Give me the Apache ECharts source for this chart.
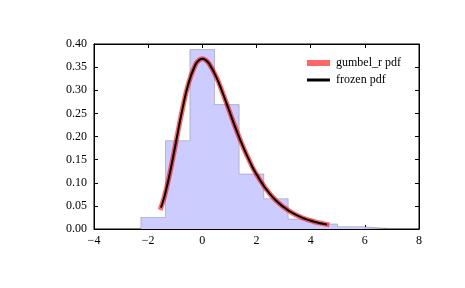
<!DOCTYPE html>
<html><head><meta charset="utf-8">
<script src="https://cdn.jsdelivr.net/npm/echarts@6/dist/echarts.min.js"></script>
<style>html,body{margin:0;padding:0;background:#fff}#c{width:465px;height:288px}</style>
</head><body><div id="c"></div>
<script>
// histogram (stepfilled, density)
const binEdges = [-2.27, -1.36, -0.46, 0.45, 1.36, 2.27, 3.17, 4.08, 4.99, 5.90, 6.81];
const histValues = [0.025, 0.191, 0.388, 0.269, 0.119, 0.0655, 0.0216, 0.011, 0.005, 0.0015];
// gumbel_r pdf sampled
const pdfX = [-1.527, -1.4, -1.25, -1.0, -0.75, -0.5, -0.25, -0.125, 0, 0.125, 0.25, 0.5, 0.75, 1.0, 1.25, 1.5, 1.75, 2.0, 2.5, 3.0, 3.5, 4.0, 4.6];
const pdfY = [0.0461, 0.0703, 0.1065, 0.1794, 0.2549, 0.3170, 0.3556, 0.3649, 0.3679, 0.3652, 0.3575, 0.3307, 0.2945, 0.2546, 0.2151, 0.1785, 0.1461, 0.1182, 0.0756, 0.0474, 0.0293, 0.0180, 0.00995];
const xTicks = [-4, -2, 0, 2, 4, 6, 8];
const yTicks = [0, 0.05, 0.10, 0.15, 0.20, 0.25, 0.30, 0.35, 0.40];
const seriesNames = ['gumbel_r pdf', 'frozen pdf'];

const histData = [[binEdges[0], 0]];
for (let i = 0; i < histValues.length; i++) histData.push([binEdges[i], histValues[i]]);
histData.push([binEdges[binEdges.length - 1], 0]);
const curve = pdfX.map((x, i) => [x, pdfY[i]]);

const font = '"Liberation Serif", "DejaVu Serif", serif';
const fmtX = v => String(v).replace('-', '\u2212');
const fmtY = v => v.toFixed(2);

const chart = echarts.init(document.getElementById('c'), null, {renderer: 'canvas'});
const tickStyle = {show: true, inside: true, length: 4, lineStyle: {color: '#000', width: 1}};
const lineStyle = {show: true, onZero: false, lineStyle: {color: '#000', width: 1}};
chart.setOption({
  animation: false,
  backgroundColor: '#fff',
  grid: {left: 94, right: 46, top: 44, bottom: 59, show: true, borderColor: '#000', borderWidth: 1},
  xAxis: [
    {type: 'value', min: xTicks[0], max: xTicks[xTicks.length - 1], interval: 2,
     axisLine: lineStyle, axisTick: tickStyle, splitLine: {show: false},
     axisLabel: {formatter: fmtX, color: '#000', fontFamily: font, fontSize: 12, margin: 6}},
    {type: 'value', position: 'top', min: xTicks[0], max: xTicks[xTicks.length - 1], interval: 2,
     axisLine: lineStyle, axisTick: tickStyle, splitLine: {show: false},
     axisLabel: {show: false}}
  ],
  yAxis: [
    {type: 'value', min: yTicks[0], max: yTicks[yTicks.length - 1], interval: 0.05,
     axisLine: lineStyle, axisTick: tickStyle, splitLine: {show: false},
     axisLabel: {formatter: fmtY, color: '#000', fontFamily: font, fontSize: 12, margin: 7}},
    {type: 'value', position: 'right', min: yTicks[0], max: yTicks[yTicks.length - 1], interval: 0.05,
     axisLine: lineStyle, axisTick: tickStyle, splitLine: {show: false},
     axisLabel: {show: false}}
  ],
  legend: [
    {data: [seriesNames[0]], left: 302, top: 52, orient: 'vertical', itemWidth: 23, itemHeight: 6,
     icon: 'rect', textStyle: {fontFamily: font, fontSize: 12, color: '#000', padding: [0, 0, 0, 1]}},
    {data: [seriesNames[1]], left: 302, top: 69, orient: 'vertical', itemWidth: 23, itemHeight: 3,
     icon: 'rect', textStyle: {fontFamily: font, fontSize: 12, color: '#000', padding: [0, 0, 0, 1]}}
  ],
  series: [
    {type: 'line', name: 'hist', data: histData, step: 'end', symbol: 'none', silent: true,
     lineStyle: {color: 'rgba(0,0,0,0.2)', width: 1}, areaStyle: {color: '#ccccff', opacity: 1, origin: 'start'}, z: 1},
    {type: 'line', name: seriesNames[0], data: curve, smooth: true, symbol: 'none',
     itemStyle: {color: 'rgba(255,0,0,0.6)'},
     lineStyle: {color: 'rgba(255,0,0,0.6)', width: 5, cap: 'square'}, z: 2},
    {type: 'line', name: seriesNames[1], data: curve, smooth: true, symbol: 'none',
     itemStyle: {color: '#000'},
     lineStyle: {color: '#000', width: 2}, z: 3}
  ]
});
</script></body></html>
